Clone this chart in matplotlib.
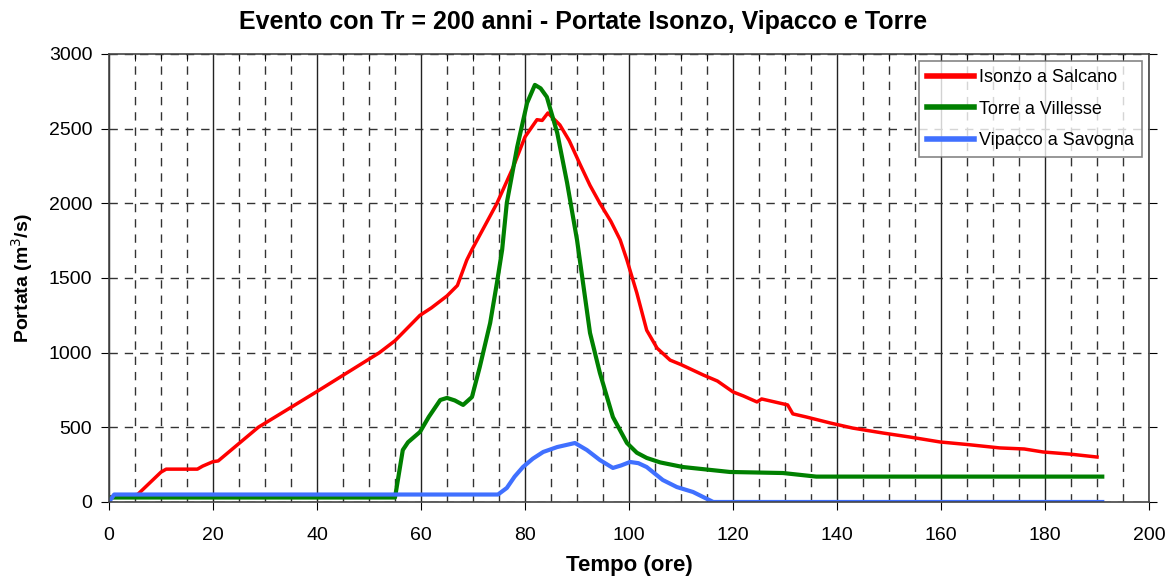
import matplotlib.pyplot as plt
from matplotlib.ticker import MultipleLocator

plt.rcParams['font.family'] = ['Liberation Sans', 'DejaVu Sans']

# Isonzo a Salcano
t_isonzo = [0, 1, 5.5, 10, 11, 17, 18, 20, 21, 28.7, 40, 52, 55, 59.8, 62, 65, 67, 68.8, 69.8,
            74.6, 77.7, 80, 82.3, 83.3, 84.4, 86.7, 88.5, 90.6, 92.5, 94.4, 96.5, 98.3, 99.6,
            101.5, 103.4, 105.4, 107.9, 110, 114.3, 117, 120, 122, 124.6, 125.5, 128, 130.5,
            131.5, 134, 138.7, 143, 148.8, 154, 159.8, 165, 171.3, 176, 179.6, 185, 190]
q_isonzo = [30, 40, 50, 200, 220, 220, 240, 270, 275, 500, 740, 1000, 1080, 1250, 1300, 1380,
            1450, 1620, 1690, 2000, 2240, 2445, 2560, 2555, 2605, 2525, 2420, 2260, 2120,
            2000, 1880, 1755, 1620, 1400, 1150, 1030, 950, 920, 850, 810, 737, 710, 670, 690,
            670, 650, 590, 570, 529, 495, 462, 435, 402, 385, 362, 355, 335, 320, 301]

# Torre a Villesse
t_torre = [0, 1, 55, 56.5, 57.5, 59.8, 61.5, 63.7, 65, 66.5, 68.1, 69.8, 71.3, 73.3, 74.6, 75.6,
           76.5, 78.5, 80.4, 81.9, 83, 84.2, 86.2, 88.1, 90, 92.5, 94.4, 96.9, 99.6, 101.5,
           103.4, 106, 110.4, 119.4, 129.6, 136, 150, 170, 191]
q_torre = [30, 30, 30, 348, 400, 469, 570, 683, 697, 680, 650, 703, 904, 1199, 1467, 1688,
           2003, 2378, 2672, 2793, 2770, 2712, 2471, 2136, 1755, 1132, 864, 569, 395, 330,
           295, 265, 234, 201, 194, 170, 170, 170, 170]

# Vipacco a Savogna
t_vipacco = [0, 1, 74.8, 76.5, 78, 79.6, 81.5, 83.5, 86.2, 89.6, 91.9, 94.4, 96.9, 98.5,
             100.2, 101.8, 103.4, 106.5, 109.2, 112.3, 116.2, 150, 191]
q_vipacco = [0, 50, 50, 94, 170, 234, 290, 335, 368, 395, 348, 281, 228, 245, 268, 260,
             234, 147, 100, 67, 0, 0, 0]

fig = plt.figure(figsize=(11.73, 5.78), dpi=100)
ax = fig.add_axes([0.0929, 0.1315, 0.8867, 0.7751])

ax.plot(t_isonzo, q_isonzo, color='#ff0000', lw=2.5, label='Isonzo a Salcano')
ax.plot(t_torre, q_torre, color='#008000', lw=3, label='Torre a Villesse')
ax.plot(t_vipacco, q_vipacco, color='#4070ff', lw=3, label='Vipacco a Savogna')

ax.set_xlim(0, 200)
ax.set_ylim(0, 3000)
ax.xaxis.set_major_locator(MultipleLocator(20))
ax.xaxis.set_minor_locator(MultipleLocator(5))
ax.yaxis.set_major_locator(MultipleLocator(500))

# griglia: verticali piene ogni 20 ore, tratteggiate ogni 5, orizzontali tratteggiate
ax.grid(which='major', axis='x', color='#222222', lw=1, ls='-')
ax.grid(which='minor', axis='x', color='#333333', lw=1, ls=(0, (6, 5)))
ax.grid(which='major', axis='y', color='#333333', lw=1, ls=(0, (6, 5)))
ax.set_axisbelow(True)

ax.tick_params(axis='x', which='major', direction='out', length=6, labelsize=14, pad=12)
ax.tick_params(axis='x', which='minor', bottom=False, top=True, direction='in', length=5)
ax.tick_params(axis='y', which='major', direction='out', length=6, labelsize=14, pad=6,
               right=True)
for s in ax.spines.values():
    s.set_color('#444444')
    s.set_linewidth(1.2)

fig.suptitle('Evento con Tr = 200 anni - Portate Isonzo, Vipacco e Torre',
             x=0.497, y=0.962, va='center', fontsize=18, fontweight='bold')
ax.set_xlabel('Tempo (ore)', fontsize=16, fontweight='bold', labelpad=8)
ax.set_ylabel('Portata (m$^3$/s)', fontsize=14, fontweight='bold', labelpad=10)

leg = ax.legend(loc='upper right', fontsize=13, frameon=True, fancybox=False,
                edgecolor='#666666', handlelength=2.6, handletextpad=0.25,
                borderaxespad=0.4, borderpad=0.45, labelspacing=0.8)
leg.get_frame().set_linewidth(1.2)
for h in leg.get_lines():
    h.set_linewidth(4)

fig.savefig('out.png', dpi=100)
